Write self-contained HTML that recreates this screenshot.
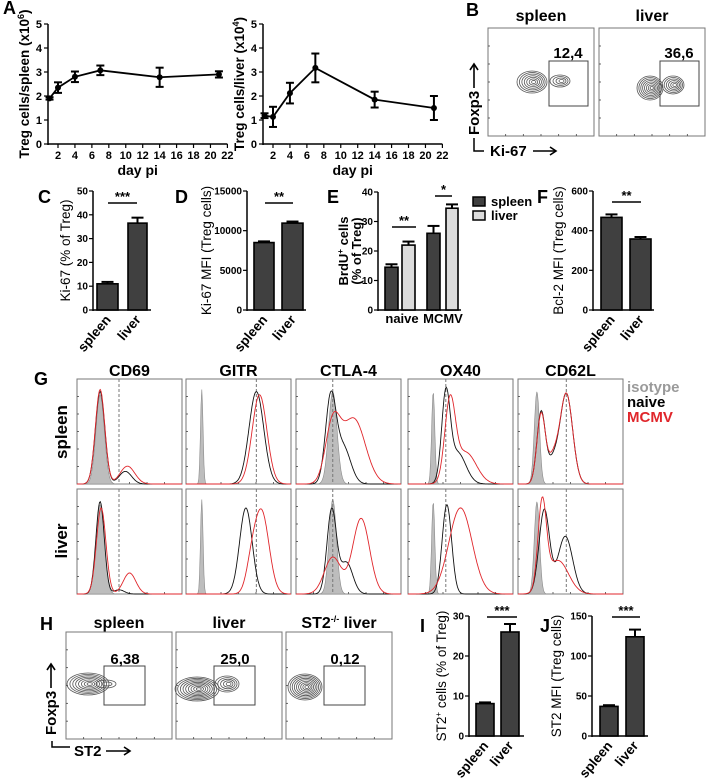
<!DOCTYPE html>
<html><head><meta charset="utf-8"><style>
html,body{margin:0;padding:0;background:#fff;}
svg{display:block;font-family:"Liberation Sans",Arial,sans-serif;}
</style></head><body>
<svg id="fig" width="707" height="778" viewBox="0 0 707 778" xmlns="http://www.w3.org/2000/svg"></svg>
<script>
// ---------- DATA ----------
const aDays = [1, 2, 4, 7, 14, 21];
const aSpleen = [1.9, 2.35, 2.8, 3.07, 2.78, 2.9];
const aSpleenErr = [0.05, 0.22, 0.22, 0.2, 0.4, 0.13];
const aLiver = [1.18, 1.13, 2.12, 3.17, 1.85, 1.5];
const aLiverErr = [0.1, 0.42, 0.43, 0.6, 0.33, 0.5];
const aXTicks = [2, 4, 6, 8, 10, 12, 14, 16, 18, 20, 22];
const aYTicks = [0, 1, 2, 3, 4, 5];

const twoCats = ["spleen", "liver"];
const cValues = [11, 36.5];
const cErr = [0.8, 2.3];
const cTicks = [0, 10, 20, 30, 40, 50];
const dValues = [8500, 10950];
const dErr = [150, 200];
const dTicks = [0, 5000, 10000, 15000];
const eGroups = ["naive", "MCMV"];
const eSpleen = [14.5, 26];
const eLiver = [22, 34.5];
const eSpleenErr = [1, 2.5];
const eLiverErr = [1.2, 1.3];
const eTicks = [0, 10, 20, 30, 40];
const fValues = [467, 358];
const fErr = [15, 10];
const fTicks = [0, 200, 400, 600];
const iValues = [8.1, 26];
const iErr = [0.3, 2];
const iTicks = [0, 10, 20, 30];
const jValues = [37, 124];
const jErr = [1.5, 9];
const jTicks = [0, 50, 100, 150];

const gMarkers = ["CD69", "GITR", "CTLA-4", "OX40", "CD62L"];
const gRows = ["spleen", "liver"];
// histogram components: [center(0-1), sigma, height(0-1)]
const gIso = [
  [[[0.22,0.04,0.85]], [[0.15,0.012,0.9]], [[0.35,0.04,0.88]], [[0.24,0.015,0.88]], [[0.18,0.025,0.88]]],
  [[[0.22,0.04,0.85]], [[0.15,0.012,0.9]], [[0.35,0.035,0.9]], [[0.24,0.015,0.88]], [[0.18,0.025,0.88]]]
];
const gNaive = [
  [[[0.22,0.045,0.88],[0.46,0.06,0.12]], [[0.67,0.07,0.88]], [[0.33,0.05,0.8],[0.45,0.07,0.35]], [[0.36,0.04,0.8],[0.47,0.08,0.3]], [[0.22,0.04,0.68],[0.46,0.06,0.86],[0.33,0.05,0.2]]],
  [[[0.22,0.04,0.88],[0.4,0.05,0.04]], [[0.57,0.06,0.82]], [[0.34,0.045,0.8],[0.48,0.06,0.3]], [[0.37,0.045,0.85]], [[0.25,0.05,0.8],[0.45,0.07,0.55]]]
];
const gMcmv = [
  [[[0.22,0.045,0.9],[0.48,0.07,0.17]], [[0.7,0.07,0.85]], [[0.35,0.07,0.55],[0.55,0.11,0.62]], [[0.4,0.05,0.75],[0.55,0.1,0.3]], [[0.22,0.04,0.66],[0.46,0.06,0.86],[0.33,0.05,0.23]]],
  [[[0.23,0.045,0.82],[0.5,0.06,0.2]], [[0.72,0.07,0.78],[0.62,0.05,0.2]], [[0.35,0.08,0.35],[0.62,0.08,0.72]], [[0.5,0.11,0.82]], [[0.23,0.04,0.82],[0.38,0.1,0.32]]]
];
const gDash = [0.4, 0.67, 0.35, 0.36, 0.46];

const bLabels = ["spleen", "liver"];
const bGates = ["12,4", "36,6"];
const hLabels = ["spleen", "liver", "ST2-/- liver"];
const hGates = ["6,38", "25,0", "0,12"];

// ---------- HELPERS ----------
const NS = "http://www.w3.org/2000/svg";
const svg = document.getElementById("fig");
function mk(tag, attrs, parent) {
  const e = document.createElementNS(NS, tag);
  for (const k in attrs) e.setAttribute(k, attrs[k]);
  (parent || svg).appendChild(e);
  return e;
}
function txt(x, y, s, size, opts, parent) {
  const t = mk("text", {x: x, y: y, "font-size": size, "font-weight": (opts && opts.w) || "bold",
    "text-anchor": (opts && opts.a) || "middle", fill: (opts && opts.f) || "#000"}, parent);
  if (opts && opts.rot !== undefined) t.setAttribute("transform", "rotate(" + opts.rot + " " + x + " " + y + ")");
  t.textContent = s;
  return t;
}
function line(x1, y1, x2, y2, w, c, parent) {
  return mk("line", {x1: x1, y1: y1, x2: x2, y2: y2, stroke: c || "#000", "stroke-width": w || 1.5}, parent);
}
function arrow(x1, y1, x2, y2, parent) {
  line(x1, y1, x2, y2, 1.6, "#000", parent);
  const dx = x2 - x1, dy = y2 - y1, L = Math.hypot(dx, dy), ux = dx / L, uy = dy / L;
  const px = -uy, py = ux;
  mk("polyline", {points: (x2 - ux * 6 + px * 4) + "," + (y2 - uy * 6 + py * 4) + " " + x2 + "," + y2 + " " + (x2 - ux * 6 - px * 4) + "," + (y2 - uy * 6 - py * 4),
    fill: "none", stroke: "#000", "stroke-width": 1.6}, parent);
}

// panel letters
const letters = [["A",3,14],["B",466,16],["C",38,203],["D",175,203],["E",327,203],["F",537,203],["G",34,385],["H",40,630],["I",420,632],["J",540,632]];
letters.forEach(l => {
  const t = txt(l[1], l[2], l[0], 18, {a: "start"});
  
  
});

// ---------- PANEL A ----------
function lineChart(axX, xTick2, vals, errs, name, ylabel, ylabX) {
  const g = mk("g", {});
  
  
  const xs = d => xTick2 + (d - 2) * 8.47;
  const ys = v => 144 - v * 24;
  line(axX, 24, axX, 145, 1.5, "#000", g);
  line(axX, 144, xs(22), 144, 1.5, "#000", g);
  aYTicks.forEach(v => {
    line(axX - 4, ys(v), axX, ys(v), 1.2, "#000", g);
    const t = txt(axX - 6, ys(v) + 4, String(v), 11, {a: "end"}, g);
    
    
  });
  aXTicks.forEach(d => {
    line(xs(d), 144, xs(d), 148, 1.2, "#000", g);
    const t = txt(xs(d), 159, String(d), 11, {}, g);
    
    
  });
  const pts = aDays.map((d, i) => xs(d) + "," + ys(vals[i])).join(" ");
  const pl = mk("polyline", {points: pts, fill: "none", stroke: "#000", "stroke-width": 1.8}, g);
  
  
  aDays.forEach((d, i) => {
    const x = xs(d), y = ys(vals[i]), e = errs[i] * 24;
    line(x, y - e, x, y + e, 2, "#000", g);
    line(x - 4, y - e, x + 4, y - e, 2, "#000", g);
    line(x - 4, y + e, x + 4, y + e, 2, "#000", g);
    const c = mk("circle", {cx: x, cy: y, r: 3, fill: "#000"}, g);
    
    
  });
  const xl = txt((axX + xs(22)) / 2, 175, "day pi", 14, {}, g);
  
  
  const yl = mk("text", {x: ylabX, y: 84, "font-size": 13.5, "font-weight": "bold", "text-anchor": "middle",
    transform: "rotate(-90 " + ylabX + " 84)"}, g);
  
  
  yl.innerHTML = ylabel[0] + "<tspan font-size='9' dy='-5'>" + ylabel[1] + "</tspan><tspan dy='5'>)</tspan>";
}
lineChart(48, 58, aSpleen, aSpleenErr, "chart-a-spleen", ["Treg cells/spleen (x10", "6"], 29);
lineChart(263, 273, aLiver, aLiverErr, "chart-a-liver", ["Treg cells/liver (x10", "4"], 244);

// ---------- BAR CHARTS ----------
function barChart(o) {
  const g = mk("g", {});
  
  
  const max = o.ticks[o.ticks.length - 1];
  const ys = v => o.y0 - v / max * (o.y0 - o.yTop);
  line(o.ax, o.yTop, o.ax, o.y0 + 1, 1.5, "#000", g);
  line(o.ax, o.y0, o.xEnd, o.y0, 1.5, "#000", g);
  o.ticks.forEach(v => {
    line(o.ax - 4, ys(v), o.ax, ys(v), 1.2, "#000", g);
    const t = txt(o.ax - 5, ys(v) + 3.5, String(v), 10, {a: "end"}, g);
    
    
  });
  o.bars.forEach((b, i) => {
    const v = o.vals[i], e = o.errs[i];
    const cx = (b[0] + b[1]) / 2;
    line(cx, ys(v), cx, ys(v + e), 2, "#000", g);
    line(cx - 6, ys(v + e), cx + 6, ys(v + e), 2, "#000", g);
    const r = mk("rect", {x: b[0], y: ys(v), width: b[1] - b[0], height: o.y0 - ys(v),
      fill: o.fills ? o.fills[i] : "#404040", stroke: "#000", "stroke-width": 1.6}, g);
    
    
  });
  if (o.cats) {
    o.bars.forEach((b, i) => {
      const cx = (b[0] + b[1]) / 2 + 4;
      const t = txt(cx, o.y0 + 10, o.cats[i], 13.5, {a: "end", rot: -50}, g);
      
      
    });
  }
  (o.sig || []).forEach(s => {
    line(s[0], s[2], s[1], s[2], 1.5, "#000", g);
    const t = txt((s[0] + s[1]) / 2, s[2] - 2, s[3], 13, {}, g);
    
    
  });
  const yl = mk("text", {x: o.ylx, y: (o.yTop + o.y0) / 2, "font-size": 13.5, "font-weight": "normal", "text-anchor": "middle",
    transform: "rotate(-90 " + o.ylx + " " + (o.yTop + o.y0) / 2 + ")"}, g);
  
  
  yl.innerHTML = o.ylabel;
  return g;
}
barChart({name: "chart-c-ki67", ax: 93, y0: 310, yTop: 191, xEnd: 151, ticks: cTicks, vals: cValues, errs: cErr,
  bars: [[97,118],[128,147]], cats: twoCats, barNames: twoCats, sig: [[108,137,203,"***"]],
  ylx: 70, ylabel: "Ki-67 (% of Treg)"});
barChart({name: "chart-d-ki67-mfi", ax: 247, y0: 310, yTop: 191, xEnd: 306, ticks: dTicks, vals: dValues, errs: dErr,
  bars: [[254,274],[282,303]], cats: twoCats, barNames: twoCats, sig: [[265,293,203,"**"]],
  ylx: 211, ylabel: "Ki-67 MFI (Treg cells)"});
barChart({name: "chart-e-brdu", ax: 378, y0: 310, yTop: 192, xEnd: 461, ticks: eTicks,
  vals: [eSpleen[0], eLiver[0], eSpleen[1], eLiver[1]], errs: [eSpleenErr[0], eLiverErr[0], eSpleenErr[1], eLiverErr[1]],
  bars: [[385,398],[402,415],[427,440],[446,458]], fills: ["#404040","#dcdcdc","#404040","#dcdcdc"],
  barNames: ["naive-spleen","naive-liver","mcmv-spleen","mcmv-liver"],
  sig: [[392,416,227,"**"],[435,452,196,"*"]], ylx: 348,
  ylabel: "<tspan font-weight='bold' font-size='13'>BrdU<tspan font-size='8' dy='-5'>+</tspan><tspan dy='5'> cells</tspan></tspan>"});
{
  const t = txt(361, 251, "(% of Treg)", 13, {rot: -90});
  
  
  [[eGroups[0], 402], [eGroups[1], 443]].forEach(gp => {
    const l = txt(gp[1], 323, gp[0], 13);
    
    
  });
  const legend = [["spleen", "#404040", 197], ["liver", "#dcdcdc", 211]];
  legend.forEach(L => {
    const r = mk("rect", {x: 473, y: L[2], width: 12, height: 9, fill: L[1], stroke: "#000", "stroke-width": 1.5});
    
    
    const t2 = txt(491, L[2] + 9, L[0], 13, {a: "start"});
    
    
  });
}
barChart({name: "chart-f-bcl2", ax: 593, y0: 310, yTop: 191, xEnd: 654, ticks: fTicks, vals: fValues, errs: fErr,
  bars: [[601,622],[630,651]], cats: twoCats, barNames: twoCats, sig: [[612,641,202,"**"]],
  ylx: 563, ylabel: "Bcl-2 MFI (Treg cells)"});
barChart({name: "chart-i-st2", ax: 469, y0: 736, yTop: 616, xEnd: 524, ticks: iTicks, vals: iValues, errs: iErr,
  bars: [[476,494],[501,519]], cats: twoCats, barNames: twoCats, sig: [[487,517,617,"***"]],
  ylx: 446, ylabel: "ST2<tspan font-size='8' dy='-5'>+</tspan><tspan dy='5'> cells (% of Treg)</tspan>"});
barChart({name: "chart-j-st2-mfi", ax: 592, y0: 736, yTop: 616, xEnd: 648, ticks: jTicks, vals: jValues, errs: jErr,
  bars: [[600,618],[626,644]], cats: twoCats, barNames: twoCats, sig: [[612,640,617,"***"]],
  ylx: 561, ylabel: "ST2 MFI (Treg cells)"});

// ---------- FLOW CONTOUR PLOTS ----------
function flowBox(x, y, w, h, name, parent) {
  const r = mk("rect", {x: x, y: y, width: w, height: h, fill: "#fff", stroke: "#777", "stroke-width": 1}, parent);
  
  
  for (let i = 1; i < 6; i++) {
    line(x, y + h * i / 6, x + 2, y + h * i / 6, 0.8, "#444", parent);
    line(x + w * i / 6, y + h, x + w * i / 6, y + h - 2, 0.8, "#444", parent);
  }
}
function blob(cx, cy, rx, ry, n, parent) {
  for (let i = 1; i <= n; i++) {
    const k = i / n;
    mk("ellipse", {cx: cx + (1 - k) * 2, cy: cy, rx: rx * k, ry: ry * k, fill: "none", stroke: "#555", "stroke-width": 0.8}, parent);
  }
}
// B
{
  const g = mk("g", {});
  
  
  const bx = [488, 599];
  bx.forEach((x, i) => {
    flowBox(x, 28, 106, 108, "flow-plot-" + bLabels[i], g);
    const t = txt(x + 53, 21, bLabels[i], 16, {}, g);
    
    
    const gate = mk("rect", {x: x + 61, y: 61, width: 39, height: 45, fill: "none", stroke: "#444", "stroke-width": 1}, g);
    
    
    const gl = txt(x + 80, 58, bGates[i], 15, {}, g);
    
    
  });
  blob(532, 82, 15, 11, 7, g); blob(560, 81, 10, 6, 4, g);
  blob(650, 88, 13, 12, 8, g); blob(673, 85, 11, 9, 6, g);
  const f = txt(479, 135, "Foxp3", 15, {a: "start", rot: -90}, g);
  
  
  arrow(474, 88, 474, 64, g);
  const k = txt(490, 156, "Ki-67", 15, {a: "start"}, g);
  
  
  arrow(533, 151, 556, 151, g);
  mk("polyline", {points: "474,138 474,151 484,151", fill: "none", stroke: "#000", "stroke-width": 1.5}, g);
}
// H
{
  const g = mk("g", {});
  
  
  const hx = [66, 176, 286];
  hx.forEach((x, i) => {
    flowBox(x, 632, 106, 107, "flow-plot-" + i, g);
    const t = mk("text", {x: x + 53, y: 628, "font-size": 16, "font-weight": "bold", "text-anchor": "middle"}, g);
    
    
    t.innerHTML = i === 2 ? "ST2<tspan font-size='9' dy='-6'>-/-</tspan><tspan dy='6'> liver</tspan>" : hLabels[i];
    const gate = mk("rect", {x: x + 38, y: 666, width: 41, height: 39, fill: "none", stroke: "#444", "stroke-width": 1}, g);
    
    
    const gl = txt(x + 59, 664, hGates[i], 15, {}, g);
    
    
  });
  blob(88, 684, 21, 11, 8, g); blob(106, 684, 10, 4, 2, g);
  blob(197, 689, 22, 12, 9, g); blob(227, 684, 12, 8, 5, g);
  blob(305, 687, 17, 13, 9, g);
  const f = txt(56, 735, "Foxp3", 15, {a: "start", rot: -90}, g);
  
  
  arrow(51, 688, 51, 664, g);
  const k = txt(74, 756, "ST2", 15, {a: "start"}, g);
  
  
  arrow(106, 751, 130, 751, g);
  mk("polyline", {points: "52,741 52,747 70,747", fill: "none", stroke: "#000", "stroke-width": 1.5}, g);
}

// ---------- PANEL G HISTOGRAMS ----------
{
  const g = mk("g", {});
  
  
  const gx = [77, 186, 296, 408, 518];
  const gy = [379, 489];
  const W = 105, H = 105;
  const dens = (comps, u) => comps.reduce((s, c) => s + c[2] * Math.exp(-0.5 * Math.pow((u - c[0]) / c[1], 2)), 0);
  const pathFor = (comps, x0, y0, closed) => {
    let d = "";
    for (let i = 0; i <= 140; i++) {
      const u = i / 140;
      const v = Math.min(dens(comps, u), 0.95);
      const px = x0 + u * W, py = y0 + H - v * H;
      d += (i === 0 ? (closed ? "M" + x0 + "," + (y0 + H) + " L" : "M") : " L") + px.toFixed(1) + "," + py.toFixed(1);
    }
    if (closed) d += " L" + (x0 + W) + "," + (y0 + H) + " Z";
    return d;
  };
  gMarkers.forEach((m, j) => {
    const t = txt(gx[j] + W / 2, 376, m, 16, {}, g);
    
    
    gRows.forEach((r, i) => {
      flowBox(gx[j], gy[i], W, H, "histogram-" + m.toLowerCase() + "-" + r, g);
      const iso = mk("path", {d: pathFor(gIso[i][j], gx[j], gy[i], true), fill: "#bdbdbd", stroke: "#8a8a8a", "stroke-width": 0.6}, g);
      
      
      const dx = gx[j] + gDash[j] * W;
      mk("line", {x1: dx, y1: gy[i], x2: dx, y2: gy[i] + H, stroke: "#777", "stroke-width": 1, "stroke-dasharray": "3,2"}, g);
      const nv = mk("path", {d: pathFor(gNaive[i][j], gx[j], gy[i], false), fill: "none", stroke: "#111", "stroke-width": 0.9}, g);
      
      
      const mc = mk("path", {d: pathFor(gMcmv[i][j], gx[j], gy[i], false), fill: "none", stroke: "#e0262b", "stroke-width": 0.9}, g);
      
      
    });
  });
  const rl1 = txt(67, 432, "spleen", 17, {rot: -90}, g);
  
  
  const rl2 = txt(67, 541, "liver", 17, {rot: -90}, g);
  
  
  const leg = [["isotype", "#9a9a9a", 392], ["naive", "#000", 407], ["MCMV", "#e0262b", 422]];
  leg.forEach(L => {
    const t2 = txt(627, L[2], L[0], 15, {a: "start", f: L[1]}, g);
    
    
  });
}
</script>
</body></html>
